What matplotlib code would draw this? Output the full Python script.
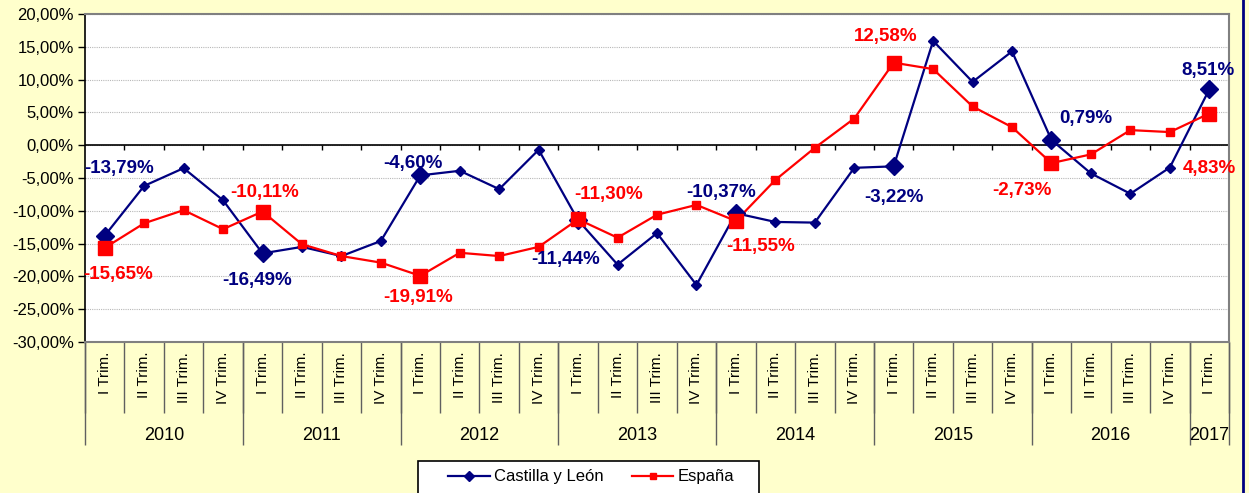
import numpy as np
import matplotlib.pyplot as plt
from matplotlib.lines import Line2D
from matplotlib.patches import Rectangle
from matplotlib.transforms import blended_transform_factory

plt.rcParams['font.family'] = ['Liberation Sans', 'DejaVu Sans']

# Datos: variación interanual por trimestre
anios = ['2010', '2011', '2012', '2013', '2014', '2015', '2016', '2017']
trimestres = ['I Trim.', 'II Trim.', 'III Trim.', 'IV Trim.'] * 7 + ['I Trim.']

castilla = [-13.79, -6.2, -3.5, -8.4,
            -16.49, -15.5, -16.9, -14.6,
            -4.60, -3.9, -6.7, -0.7,
            -11.44, -18.2, -13.4, -21.3,
            -10.37, -11.7, -11.8, -3.45,
            -3.22, 15.9, 9.65, 14.3,
            0.79, -4.3, -7.4, -3.4,
            8.51]
espana = [-15.65, -11.9, -9.9, -12.8,
          -10.11, -15.1, -16.9, -17.9,
          -19.91, -16.4, -16.9, -15.5,
          -11.30, -14.1, -10.6, -9.1,
          -11.55, -5.3, -0.4, 4.07,
          12.58, 11.6, 5.9, 2.75,
          -2.73, -1.4, 2.3, 2.0,
          4.83]

# puntos con etiqueta (primer trimestre de cada año)
idx_etiq = [0, 4, 8, 12, 16, 20, 24, 28]
# desplazamientos de las etiquetas en píxeles (x, y)
off_castilla = [(14, 67), (-5, -27), (-7, 12), (-12, -39), (-15, 21), (0, -31), (34, 22), (-1, 19)]
off_espana = [(13, -27), (2, 19), (-2, -22), (31, 25), (25, -26), (-8, 26), (-30, -27), (0, -55)]

azul = '#000080'
rojo = '#FF0000'
fondo = '#FFFFCC'

fig = plt.figure(figsize=(12.49, 4.93), dpi=100, facecolor=fondo)
ax = fig.add_axes([85 / 1249, (493 - 342) / 493, (1229 - 85) / 1249, (342 - 14) / 493])
ax.set_facecolor('white')

x = np.arange(len(castilla))
ax.set_xlim(-0.5, len(castilla) - 0.5)
ax.set_ylim(-30, 20)

ax.set_yticks(np.arange(-30, 21, 5))
ax.set_yticklabels([f'{v:.2f}%'.replace('.', ',') for v in np.arange(-30, 21, 5)], fontsize=12)
ax.tick_params(axis='y', length=5, width=1, color='black', pad=3)
ax.set_xticks([])
ax.yaxis.grid(True, linestyle=(0, (1, 1)), color='#B8B8B8', linewidth=0.8)
ax.set_axisbelow(True)

for lado in ['top', 'right', 'bottom']:
    ax.spines[lado].set_color('#808080')
    ax.spines[lado].set_linewidth(1.5)
ax.spines['left'].set_color('black')
ax.spines['left'].set_linewidth(1.2)

# eje en el 0 con marcas de categoría
ax.axhline(0, color='black', linewidth=1.2, zorder=2)
ax.vlines(np.arange(0.5, len(castilla) - 0.5), -0.7, 0, color='black', linewidth=1, zorder=2)

# series
ax.plot(x, castilla, color=azul, lw=1.6, marker='D', ms=5.5, zorder=3)
ax.plot(x, espana, color=rojo, lw=1.6, marker='s', ms=5.5, zorder=3)
ax.plot(x[idx_etiq], np.array(castilla)[idx_etiq], ls='none', marker='D', ms=9.5, color=azul, zorder=4)
ax.plot(x[idx_etiq], np.array(espana)[idx_etiq], ls='none', marker='s', ms=9.5, color=rojo, zorder=4)

for i, (dx, dy) in zip(idx_etiq, off_castilla):
    ax.annotate(f'{castilla[i]:.2f}%'.replace('.', ','), (x[i], castilla[i]),
                xytext=(dx, dy), textcoords='offset pixels', ha='center', va='center',
                fontsize=13.5, fontweight='bold', color=azul, zorder=5)
for i, (dx, dy) in zip(idx_etiq, off_espana):
    ax.annotate(f'{espana[i]:.2f}%'.replace('.', ','), (x[i], espana[i]),
                xytext=(dx, dy), textcoords='offset pixels', ha='center', va='center',
                fontsize=13.5, fontweight='bold', color=rojo, zorder=5)

# etiquetas del eje de categorías (trimestres y años)
tr = blended_transform_factory(ax.transData, ax.transAxes)
alto = 328
for i, t in enumerate(trimestres):
    ax.text(i, -10 / alto, t, transform=tr, rotation=90, ha='center', va='top', fontsize=11)
bordes = np.arange(-0.5, len(castilla), 1)
ax.vlines(bordes, -71 / alto, 0, transform=tr, color='#606060', lw=1, clip_on=False)
bordes_anio = [-0.5, 3.5, 7.5, 11.5, 15.5, 19.5, 23.5, 27.5, 28.5]
ax.vlines(bordes_anio, -103 / alto, 0, transform=tr, color='#606060', lw=1, clip_on=False)
for k, a in enumerate(anios):
    centro = (bordes_anio[k] + bordes_anio[k + 1]) / 2
    ax.text(centro, -93 / alto, a, transform=tr, ha='center', va='center', fontsize=13)

# leyenda: marco dibujado aparte
fig.add_artist(Rectangle((418 / 1249, -0.05), (759 - 418) / 1249, (493 - 461) / 493 + 0.05,
                         transform=fig.transFigure, facecolor='white', edgecolor='black',
                         linewidth=1.2, zorder=1))
h1 = Line2D([], [], color=azul, lw=1.6, marker='D', ms=5)
h2 = Line2D([], [], color=rojo, lw=1.6, marker='s', ms=5)
leg = fig.legend([h1, h2], ['Castilla y León', 'España'], loc='center left',
                 bbox_to_anchor=(448 / 1249, (493 - 477) / 493), ncol=2, fontsize=12,
                 frameon=False, handlelength=2.5, columnspacing=1.7, handletextpad=0.25,
                 borderpad=0, borderaxespad=0)
leg.set_zorder(2)

# borde derecho
fig.add_artist(Line2D([1243 / 1249, 1243 / 1249], [0, 1], color=azul, lw=2))

fig.savefig('out.png', dpi=100, facecolor=fondo)
